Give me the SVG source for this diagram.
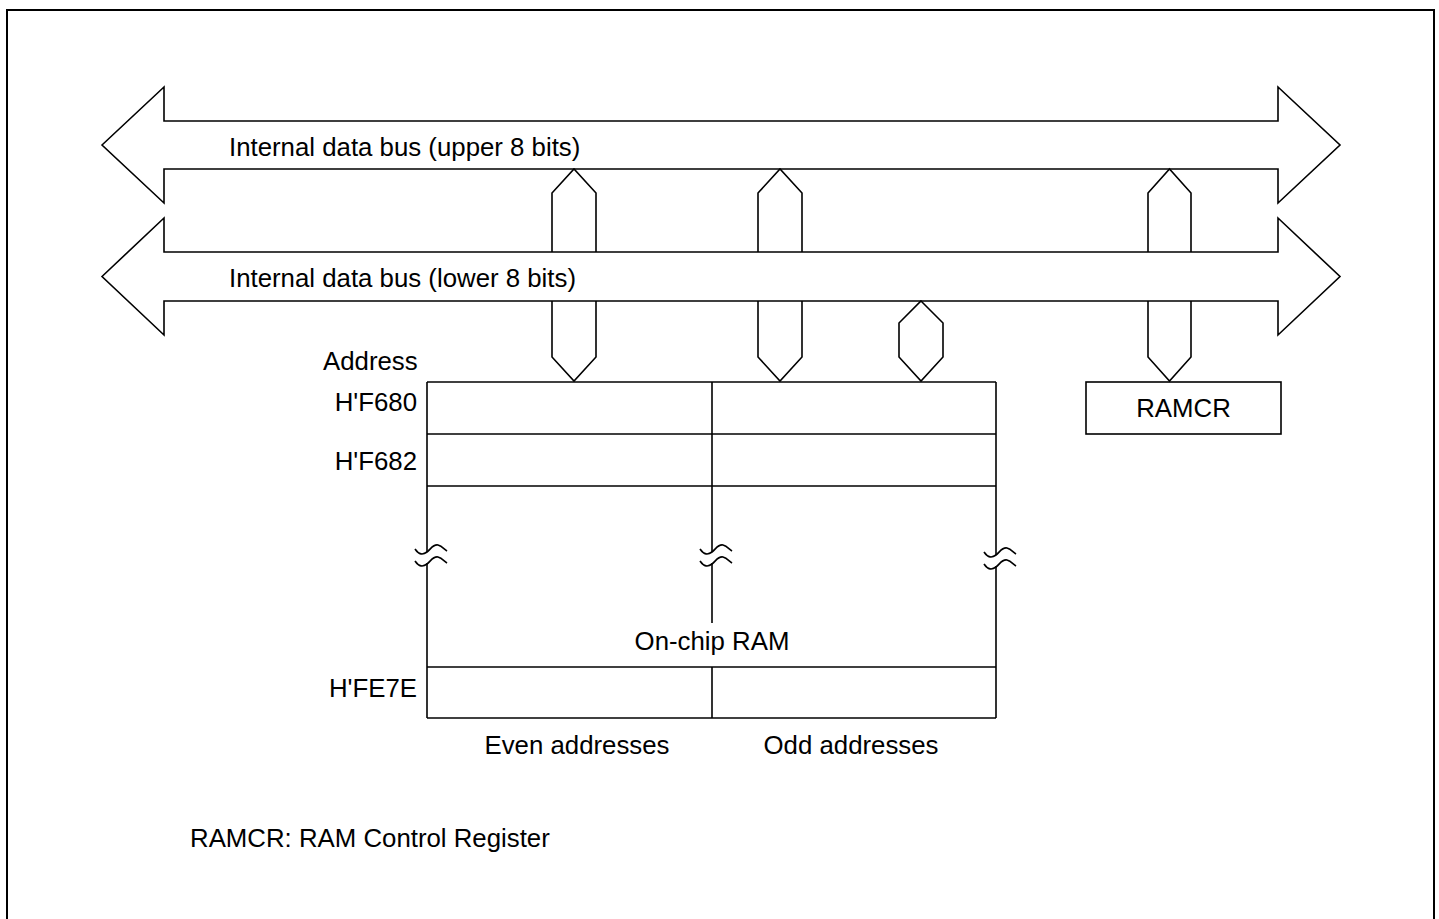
<svg xmlns="http://www.w3.org/2000/svg" width="1439" height="919" viewBox="0 0 1439 919">
<style>
.ln{fill:none;stroke:#000;stroke-width:1.6;stroke-linejoin:miter}
.bus{fill:#fff;stroke:#000;stroke-width:1.6}
.t{font-family:"Liberation Sans",Arial,sans-serif;font-size:25.8px;fill:#000}
.e{text-anchor:end}
.m{text-anchor:middle}
</style>
<rect x="0" y="0" width="1439" height="919" fill="#fff"/>
<rect x="7" y="10" width="1427" height="930" fill="none" stroke="#000" stroke-width="2"/>

<g id="bus-upper">
<polygon class="bus" points="102,145 164,87 164,121 1278,121 1278,87 1340,145 1278,203 1278,169 164,169 164,203"/>
<text class="t" x="229" y="156">Internal data bus (upper 8 bits)</text>
</g>
<g id="bus-lower">
<polygon class="bus" points="102,276.5 164,218 164,252 1278,252 1278,218 1340,276.5 1278,335 1278,301 164,301 164,335"/>
<text class="t" x="229" y="287">Internal data bus (lower 8 bits)</text>
</g>

<g id="connectors">
<polyline class="ln" points="552,252 552,193 574,169 596,193 596,252"/>
<polyline class="ln" points="552,301 552,357 574,381 596,357 596,301"/>
<polyline class="ln" points="758,252 758,193 780,169 802,193 802,252"/>
<polyline class="ln" points="758,301 758,357 780,381 802,357 802,301"/>
<polyline class="ln" points="1148,252 1148,193 1169.5,169 1191,193 1191,252"/>
<polyline class="ln" points="1148,301 1148,357 1169.5,381 1191,357 1191,301"/>
<polygon class="ln" points="921,301 943,323 943,357 921,381 899,357 899,323"/>
</g>

<g id="ram">
<text class="t" x="323" y="370">Address</text>
<text class="t e" x="417" y="411">H'F680</text>
<text class="t e" x="417" y="470">H'F682</text>
<text class="t e" x="417" y="697">H'FE7E</text>
<line class="ln" x1="427" y1="382" x2="996" y2="382"/>
<line class="ln" x1="427" y1="434" x2="996" y2="434"/>
<line class="ln" x1="427" y1="486" x2="996" y2="486"/>
<line class="ln" x1="427" y1="667" x2="996" y2="667"/>
<line class="ln" x1="427" y1="718" x2="996" y2="718"/>
<line class="ln" x1="712" y1="382" x2="712" y2="552"/>
<line class="ln" x1="712" y1="563" x2="712" y2="623"/>
<line class="ln" x1="712" y1="667" x2="712" y2="718"/>
<line class="ln" x1="427" y1="382" x2="427" y2="552"/>
<line class="ln" x1="427" y1="563" x2="427" y2="718"/>
<line class="ln" x1="996" y1="382" x2="996" y2="555"/>
<line class="ln" x1="996" y1="566" x2="996" y2="718"/>
<path class="ln" d="M415,549 C419,555 423,555 427,552 C431,549 433,544 438,545 C442,546 444,549 447,551"/>
<path class="ln" d="M415,561 C419,567 423,567 427,564 C431,561 433,556 438,557 C442,558 444,561 447,563"/>
<path class="ln" d="M700,549 C704,555 708,555 712,552 C716,549 718,544 723,545 C727,546 729,549 732,551"/>
<path class="ln" d="M700,561 C704,567 708,567 712,564 C716,561 718,556 723,557 C727,558 729,561 732,563"/>
<path class="ln" d="M984,552 C988,558 992,558 996,555 C1000,552 1002,547 1007,548 C1011,549 1013,552 1016,554"/>
<path class="ln" d="M984,564 C988,570 992,570 996,567 C1000,564 1002,559 1007,560 C1011,561 1013,564 1016,566"/>
<text class="t m" x="712" y="650">On-chip RAM</text>
<text class="t m" x="577" y="754">Even addresses</text>
<text class="t m" x="851" y="754">Odd addresses</text>
</g>

<g id="ramcr">
<rect class="ln" x="1086" y="382" width="195" height="52"/>
<text class="t m" x="1183.5" y="417">RAMCR</text>
</g>

<text class="t" x="190" y="847">RAMCR: RAM Control Register</text>
</svg>
